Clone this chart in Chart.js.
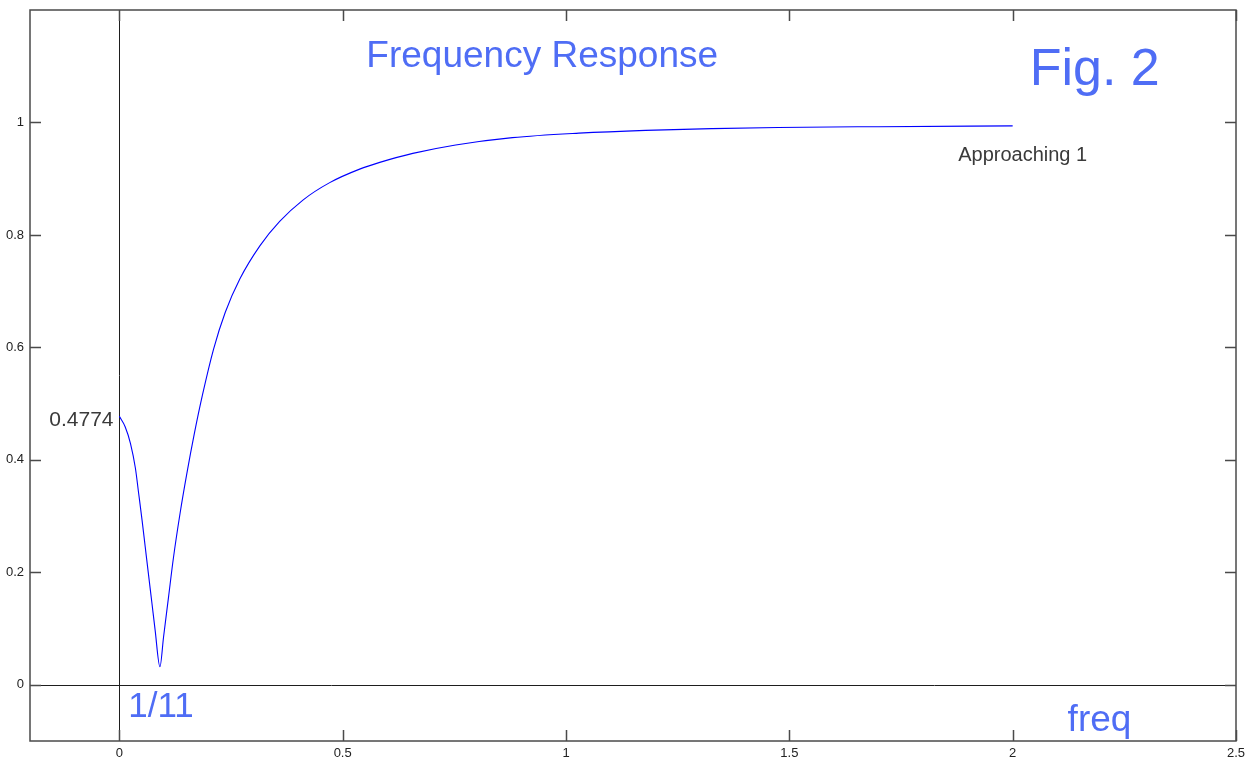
<!DOCTYPE html>
<html>
<head>
<meta charset="utf-8">
<script src="https://cdn.jsdelivr.net/npm/chart.js@4.4.1/dist/chart.umd.min.js"></script>
<style>
  html, body { margin: 0; padding: 0; background: #ffffff; }
  #wrap { width: 1257px; height: 765px; position: relative; }
</style>
</head>
<body>
<div id="wrap"><canvas id="c" width="1257" height="765"></canvas></div>
<script>
// ---- data ----
const freqValues = [0, 0.013, 0.025, 0.036, 0.043, 0.051, 0.058, 0.065, 0.073, 0.080, 0.0909, 0.099, 0.110, 0.121, 0.136, 0.151, 0.168, 0.186, 0.211, 0.237, 0.270, 0.315, 0.359, 0.411, 0.471, 0.538, 0.583, 0.657, 0.753, 0.880, 1.029, 1.178, 1.327, 1.475, 1.699, 2.0];
const responseValues = [0.4774, 0.459, 0.429, 0.385, 0.342, 0.292, 0.245, 0.198, 0.145, 0.098, 0.032, 0.085, 0.155, 0.225, 0.305, 0.375, 0.447, 0.515, 0.597, 0.662, 0.722, 0.781, 0.824, 0.862, 0.893, 0.917, 0.929, 0.945, 0.960, 0.973, 0.981, 0.986, 0.989, 0.991, 0.9925, 0.994];
const xTickValues = [0, 0.5, 1, 1.5, 2, 2.5];
const yTickValues = [0, 0.2, 0.4, 0.6, 0.8, 1];
const xRange = [-0.2, 2.5];
const yRange = [-0.1, 1.2];

const FONT = '"Liberation Sans", Arial, Helvetica, sans-serif';
const BLUE_TEXT = '#4f6df5';

const points = freqValues.map((f, i) => ({ x: f, y: responseValues[i] }));

const framePlugin = {
  id: 'frame',
  beforeDatasetsDraw(chart) {
    const { ctx, chartArea: a, scales } = chart;
    const x0 = scales.x.getPixelForValue(0);
    const y0 = scales.y.getPixelForValue(0);
    ctx.save();
    ctx.strokeStyle = '#1e1e1e';
    ctx.lineWidth = 1;
    ctx.beginPath();
    ctx.moveTo(Math.round(x0) + 0.5, a.top);
    ctx.lineTo(Math.round(x0) + 0.5, a.bottom);
    ctx.moveTo(a.left, Math.round(y0) + 0.5);
    ctx.lineTo(a.right, Math.round(y0) + 0.5);
    ctx.stroke();
    ctx.restore();
  },
  afterDatasetsDraw(chart) {
    const { ctx, chartArea: a, scales } = chart;
    ctx.save();
    ctx.strokeStyle = '#4a4a4a';
    ctx.lineWidth = 1.5;
    ctx.strokeRect(a.left, a.top, a.right - a.left, a.bottom - a.top);
    const L = 11;
    ctx.beginPath();
    xTickValues.forEach(v => {
      const px = Math.round(scales.x.getPixelForValue(v)) + 0.5;
      ctx.moveTo(px, a.bottom); ctx.lineTo(px, a.bottom - L);
      ctx.moveTo(px, a.top); ctx.lineTo(px, a.top + L);
    });
    yTickValues.forEach(v => {
      const py = Math.round(scales.y.getPixelForValue(v)) + 0.5;
      ctx.moveTo(a.left, py); ctx.lineTo(a.left + L, py);
      ctx.moveTo(a.right, py); ctx.lineTo(a.right - L, py);
    });
    ctx.stroke();

    // annotations (positioned via the scales)
    const X = v => scales.x.getPixelForValue(v);
    const Y = v => scales.y.getPixelForValue(v);
    ctx.textBaseline = 'alphabetic';
    ctx.textAlign = 'left';
    ctx.fillStyle = BLUE_TEXT;
    ctx.font = '37px ' + FONT;
    ctx.fillText('Frequency Response', X(0.553), Y(1.0987));
    ctx.font = '52px ' + FONT;
    ctx.fillText('Fig. 2', X(2.038), Y(1.066));
    ctx.font = '35px ' + FONT;
    ctx.fillText('1/11', X(0.02), Y(-0.057));
    ctx.font = '37px ' + FONT;
    ctx.fillText('freq', X(2.123), Y(-0.082));
    ctx.fillStyle = '#3a3a3a';
    ctx.font = '20px ' + FONT;
    ctx.fillText('Approaching 1', X(1.878), Y(0.932));
    ctx.textAlign = 'right';
    ctx.font = '21px ' + FONT;
    ctx.fillText('0.4774', X(-0.013), Y(0.4606));
    ctx.restore();
  }
};

new Chart(document.getElementById('c'), {
  type: 'line',
  data: {
    datasets: [{
      label: 'Frequency Response',
      data: points,
      borderColor: '#0000ff',
      borderWidth: 1.1,
      pointRadius: 0,
      fill: false,
      cubicInterpolationMode: 'monotone'
    }]
  },
  options: {
    responsive: false,
    devicePixelRatio: 1,
    animation: false,
    events: [],
    layout: { padding: { top: 10, right: 21, bottom: 0, left: 0 } },
    plugins: { legend: { display: false }, tooltip: { enabled: false }, title: { display: false } },
    scales: {
      x: {
        type: 'linear',
        min: xRange[0], max: xRange[1],
        afterBuildTicks: s => { s.ticks = xTickValues.map(v => ({ value: v })); },
        afterFit: s => { s.height = 24; s.paddingLeft = 0; s.paddingRight = 0; },
        grid: { display: false, drawTicks: false },
        border: { display: false },
        ticks: {
          padding: 5,
          autoSkip: false,
          maxRotation: 0,
          color: '#222222',
          font: { family: FONT, size: 13 },
          callback: v => String(v)
        }
      },
      y: {
        type: 'linear',
        min: yRange[0], max: yRange[1],
        afterBuildTicks: s => { s.ticks = yTickValues.map(v => ({ value: v })); },
        afterFit: s => { s.width = 30; s.paddingTop = 0; s.paddingBottom = 0; },
        grid: { display: false, drawTicks: false },
        border: { display: false },
        ticks: {
          padding: 6,
          autoSkip: false,
          color: '#222222',
          font: { family: FONT, size: 13 },
          callback: v => String(Math.round(v * 10) / 10)
        }
      }
    }
  },
  plugins: [framePlugin]
});
</script>
</body>
</html>
